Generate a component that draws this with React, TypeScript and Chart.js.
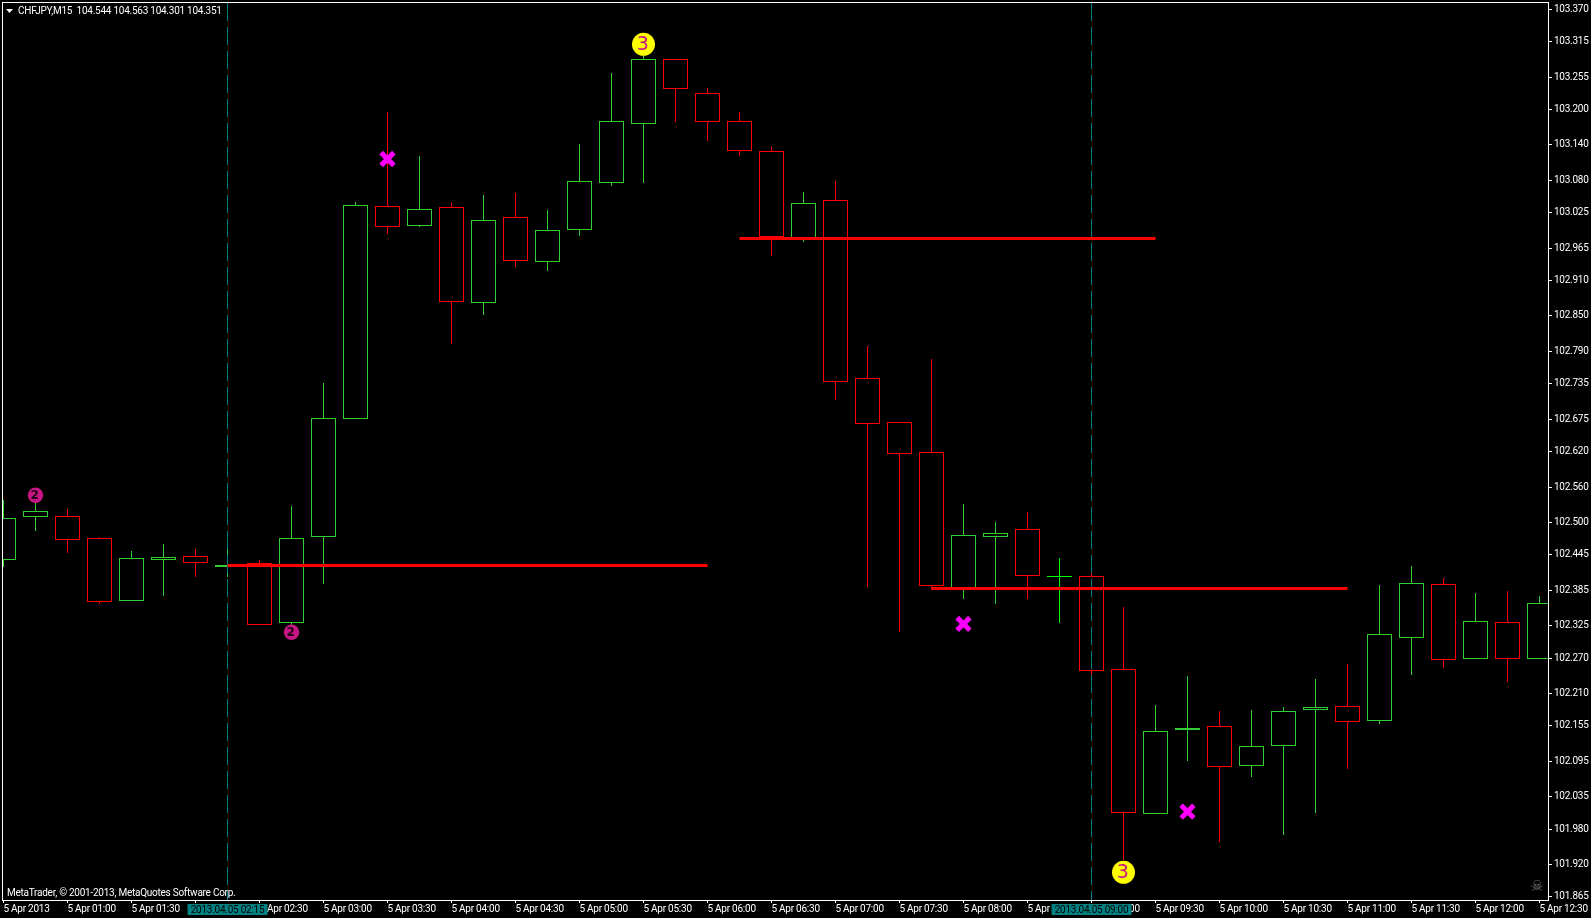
import React, { useEffect, useRef } from "react";
import { Chart, registerables } from "chart.js";

Chart.register(...registerables);

const opens = [102.4375,102.5097,102.5104,102.4731,102.3673,102.4368,102.4426,102.4253,102.4307,102.33,
  102.4758,102.6766,103.036,103.0031,103.0343,102.8733,103.0174,102.9421,102.997,103.076,
  103.1761,103.2853,103.2276,103.1801,103.1293,102.9811,103.0462,102.7444,102.6698,102.6189,
  102.3877,102.4758,102.4884,102.4087,102.4087,102.251,102.0062,102.1488,102.1544,102.0876,
  102.1215,102.1825,102.1883,102.1639,102.3046,102.3951,102.269,102.3307,102.269];
const closes = [102.507,102.5189,102.4707,102.3656,102.4392,102.4409,102.4317,102.427,102.3266,102.4731,
  102.6766,103.0377,103.0014,103.0309,102.8743,103.0123,102.9438,102.9953,103.0784,103.1801,
  103.2853,103.2354,103.1801,103.131,102.9845,103.0411,102.7386,102.6674,102.6166,102.3927,
  102.4782,102.4816,102.4097,102.4087,102.2493,102.0079,102.1459,102.1508,102.0859,102.1205,
  102.1798,102.1866,102.1622,102.3104,102.3968,102.268,102.3324,102.269,102.3629];
const highs = [102.538,102.5347,102.5211,102.4736,102.4499,102.4618,102.4533,102.4533,102.4346,102.5262,
  102.7347,103.0416,103.1942,103.1196,103.0399,103.0535,103.0569,103.0281,103.1416,103.262,
  103.2909,103.2853,103.2349,103.1942,103.1361,103.0598,103.0772,102.7975,102.6698,102.7754,
  102.5296,102.4991,102.516,102.438,102.4143,102.3549,102.1888,102.2396,102.1786,102.1803,
  102.1854,102.2329,102.2583,102.3922,102.4261,102.4041,102.3787,102.3821,102.3736];
const lows = [102.4261,102.4855,102.4482,102.3617,102.3673,102.3753,102.4075,102.4075,102.3266,102.3261,
  102.3961,102.6766,102.9891,103.0009,102.8031,102.8517,102.9336,102.9263,102.9857,103.0721,
  103.076,103.1806,103.1472,103.1213,102.9523,102.976,102.7076,102.3906,102.3159,102.3877,
  102.3702,102.3617,102.3702,102.3295,102.2413,101.9277,102.0062,102.0955,101.9582,102.0684,
  101.9701,102.0074,102.082,102.1588,102.2413,102.2532,102.269,102.2295,102.269];

const priceTicks = [103.37,103.315,103.255,103.2,103.14,103.08,103.025,102.965,102.91,102.85,102.79,102.735,
  102.675,102.62,102.56,102.5,102.445,102.385,102.325,102.27,102.21,102.155,102.095,102.035,101.98,101.92,101.865];
const timeLabels = ["5 Apr 2013","5 Apr 01:00","5 Apr 01:30","5 Apr 02:00","5 Apr 02:30","5 Apr 03:00","5 Apr 03:30",
  "5 Apr 04:00","5 Apr 04:30","5 Apr 05:00","5 Apr 05:30","5 Apr 06:00","5 Apr 06:30","5 Apr 07:00","5 Apr 07:30",
  "5 Apr 08:00","5 Apr 08:30","5 Apr 09:00","5 Apr 09:30","5 Apr 10:00","5 Apr 10:30","5 Apr 11:00","5 Apr 11:30",
  "5 Apr 12:00","5 Apr 12:30"];

const periodBars = [7, 34];
const periodLabels = ["2013.04.05 02:15", "2013.04.05 09:00"];
const levelLines = [
  { from: 7, to: 22, price: 102.427 },
  { from: 23, to: 36, price: 102.9814 },
  { from: 29, to: 42, price: 102.388 },
];
const yellowMarks = [{ x: 20, y: 103.3107 }, { x: 35, y: 101.9068 }];
const purpleMarks = [{ x: 1, y: 102.546 }, { x: 9, y: 102.3137 }];
const crossMarks = [{ x: 12, y: 103.1162 }, { x: 30, y: 102.3278 }, { x: 37, y: 102.0096 }];

const TITLE = "CHFJPY,M15  104.544 104.563 104.301 104.351";
const COPYRIGHT = "MetaTrader, \u00A9 2001-2013, MetaQuotes Software Corp.";

const PRICE_MAX = 103.3807;
const PRICE_MIN = 101.8598;
const BAR_MIN = -1 / 64;
const BAR_MAX = BAR_MIN + 1545 / 32;
const BULL = "#32cd32";
const BEAR = "#ff0000";
const DOJI = "#00ff00";
const TEAL = "#008080";
const FONT = 'Roboto, "Liberation Sans", sans-serif';
const FONT_SIZE = 10;
const TRACKING = "-0.25px";

const colorOf = (i: number) =>
  closes[i] > opens[i] ? BULL : closes[i] < opens[i] ? BEAR : DOJI;

const snapBars = {
  id: "snapBars",
  beforeDraw(chart: any) {
    chart.ctx.letterSpacing = TRACKING;
  },
  beforeDatasetsDraw(chart: any) {
    chart.data.datasets.forEach((ds: any, idx: number) => {
      if (ds.type === "line") return;
      chart.getDatasetMeta(idx).data.forEach((el: any) => {
        const t = Math.floor(Math.min(el.y, el.base));
        const b = Math.max(Math.ceil(Math.max(el.y, el.base)), t + 1);
        el.y = t;
        el.base = b;
      });
    });
  },
};

const overlay = {
  id: "overlay",
  afterDraw(chart: any) {
    const { ctx, chartArea: a, scales } = chart;
    const xs = scales.x;
    const ys = scales.y;
    ctx.save();

    // frame
    ctx.strokeStyle = "#ffffff";
    ctx.lineWidth = 1;
    ctx.strokeRect(a.left - 0.5, a.top - 0.5, a.right - a.left + 1, a.bottom - a.top + 1);

    // numbers in the circle marks
    ctx.letterSpacing = "0px";
    ctx.textAlign = "center";
    ctx.textBaseline = "middle";
    ctx.font = '19px "DejaVu Sans", sans-serif';
    ctx.fillStyle = "#c71585";
    yellowMarks.forEach((m) =>
      ctx.fillText("3", xs.getPixelForValue(m.x) - 0.8, ys.getPixelForValue(m.y) + 1)
    );
    ctx.font = 'bold 12px "DejaVu Sans", sans-serif';
    ctx.fillStyle = "#1a0010";
    purpleMarks.forEach((m) =>
      ctx.fillText("2", xs.getPixelForValue(m.x) - 0.8, ys.getPixelForValue(m.y) + 0.5)
    );

    // header
    ctx.fillStyle = "#ffffff";
    ctx.beginPath();
    ctx.moveTo(6, 9);
    ctx.lineTo(13, 9);
    ctx.lineTo(9.5, 13);
    ctx.closePath();
    ctx.fill();
    ctx.letterSpacing = TRACKING;
    ctx.textAlign = "left";
    ctx.font = `${FONT_SIZE}px ${FONT}`;
    ctx.fillText(TITLE, 18, 11);
    ctx.fillText(COPYRIGHT, 7, 893);

    // skull
    ctx.letterSpacing = "0px";
    ctx.fillStyle = "#6e6e6e";
    ctx.textAlign = "center";
    ctx.font = '15px "DejaVu Sans", sans-serif';
    ctx.fillText("\u2620", 1537, 887);

    // period labels on the time axis
    ctx.letterSpacing = TRACKING;
    ctx.font = `${FONT_SIZE}px ${FONT}`;
    periodBars.forEach((bar, i) => {
      const cx = xs.getPixelForValue(bar);
      ctx.fillStyle = TEAL;
      ctx.fillRect(cx - 40, 904, 80, 11);
      ctx.fillStyle = "#000000";
      ctx.fillText(periodLabels[i], cx, 910);
    });
    ctx.restore();
  },
};

export default function App() {
  const ref = useRef<HTMLCanvasElement | null>(null);

  useEffect(() => {
    if (!ref.current) return;
    const barIdx = opens.map((_, i) => i);
    const chart = new Chart(ref.current, {
      type: "bar",
      data: {
        datasets: [
          ...levelLines.map((l) => ({
            type: "line" as const,
            data: [{ x: l.from, y: l.price }, { x: l.to, y: l.price }],
            borderColor: BEAR,
            borderWidth: 3,
            pointRadius: 0,
            order: 1,
          })),
          ...periodBars.map((b) => ({
            type: "line" as const,
            data: [{ x: b, y: PRICE_MAX }, { x: b, y: PRICE_MIN }],
            borderColor: TEAL,
            borderWidth: 1,
            borderDash: [18, 6],
            pointRadius: 0,
            order: 2,
          })),
          {
            type: "line" as const,
            data: yellowMarks,
            showLine: false,
            pointStyle: "circle",
            pointRadius: 11.5,
            pointBackgroundColor: "#ffff00",
            pointBorderWidth: 0,
            order: 0,
            clip: false,
          },
          {
            type: "line" as const,
            data: purpleMarks,
            showLine: false,
            pointStyle: "circle",
            pointRadius: 7.7,
            pointBackgroundColor: "#c71585",
            pointBorderWidth: 0,
            order: 0,
            clip: false,
          },
          {
            type: "line" as const,
            data: crossMarks,
            showLine: false,
            pointStyle: "crossRot",
            pointRadius: 9,
            pointBorderColor: "#ff00ff",
            pointBorderWidth: 5,
            order: 0,
            clip: false,
          },
          {
            type: "bar" as const,
            data: barIdx.map((i) => ({ x: i, y: [opens[i], closes[i]] })),
            backgroundColor: "#000000",
            borderColor: barIdx.map(colorOf),
            borderWidth: 1,
            borderSkipped: false,
            inflateAmount: 0,
            barThickness: 25,
            grouped: false,
            order: 3,
          },
          {
            type: "bar" as const,
            data: barIdx.map((i) => ({ x: i, y: [lows[i], highs[i]] })),
            backgroundColor: barIdx.map(colorOf),
            borderWidth: 0,
            inflateAmount: 0,
            barThickness: 1,
            grouped: false,
            order: 4,
          },
        ],
      } as any,
      options: {
        animation: false,
        responsive: false,
        devicePixelRatio: 1,
        layout: { autoPadding: false, padding: { left: 3, top: 3, right: 0, bottom: 0 } },
        plugins: { legend: { display: false }, tooltip: { enabled: false } },
        events: [],
        scales: {
          x: {
            type: "linear",
            min: BAR_MIN,
            max: BAR_MAX,
            offset: false,
            afterBuildTicks(axis: any) {
              axis.ticks = timeLabels.map((_, i) => ({ value: i * 2 }));
            },
            afterFit(axis: any) {
              axis.height = 18;
              axis.paddingLeft = 0;
              axis.paddingRight = 0;
            },
            grid: { offset: false, drawOnChartArea: false, color: "#ffffff", tickLength: 3 },
            border: { color: "#ffffff" },
            ticks: {
              autoSkip: false,
              maxRotation: 0,
              align: "start",
              padding: 0,
              color: "#ffffff",
              font: { family: FONT, size: FONT_SIZE },
              callback: (v: any) => timeLabels[Math.round(Number(v) / 2)],
            },
          },
          y: {
            type: "linear",
            position: "right",
            min: PRICE_MIN,
            max: PRICE_MAX,
            afterBuildTicks(axis: any) {
              axis.ticks = priceTicks.map((value) => ({ value }));
            },
            afterFit(axis: any) {
              axis.width = 43;
              axis.paddingTop = 0;
              axis.paddingBottom = 0;
            },
            grid: { drawOnChartArea: false, color: "#ffffff", tickLength: 4 },
            border: { color: "#ffffff" },
            ticks: {
              autoSkip: false,
              padding: 2,
              color: "#ffffff",
              font: { family: FONT, size: FONT_SIZE },
              callback: (v: any) => Number(v).toFixed(3),
            },
          },
        },
      } as any,
      plugins: [snapBars, overlay],
    });
    return () => chart.destroy();
  }, []);

  return (
    <div style={{ position: "fixed", inset: 0, background: "#000000" }}>
      <canvas ref={ref} width={1591} height={918} style={{ display: "block" }} />
    </div>
  );
}
